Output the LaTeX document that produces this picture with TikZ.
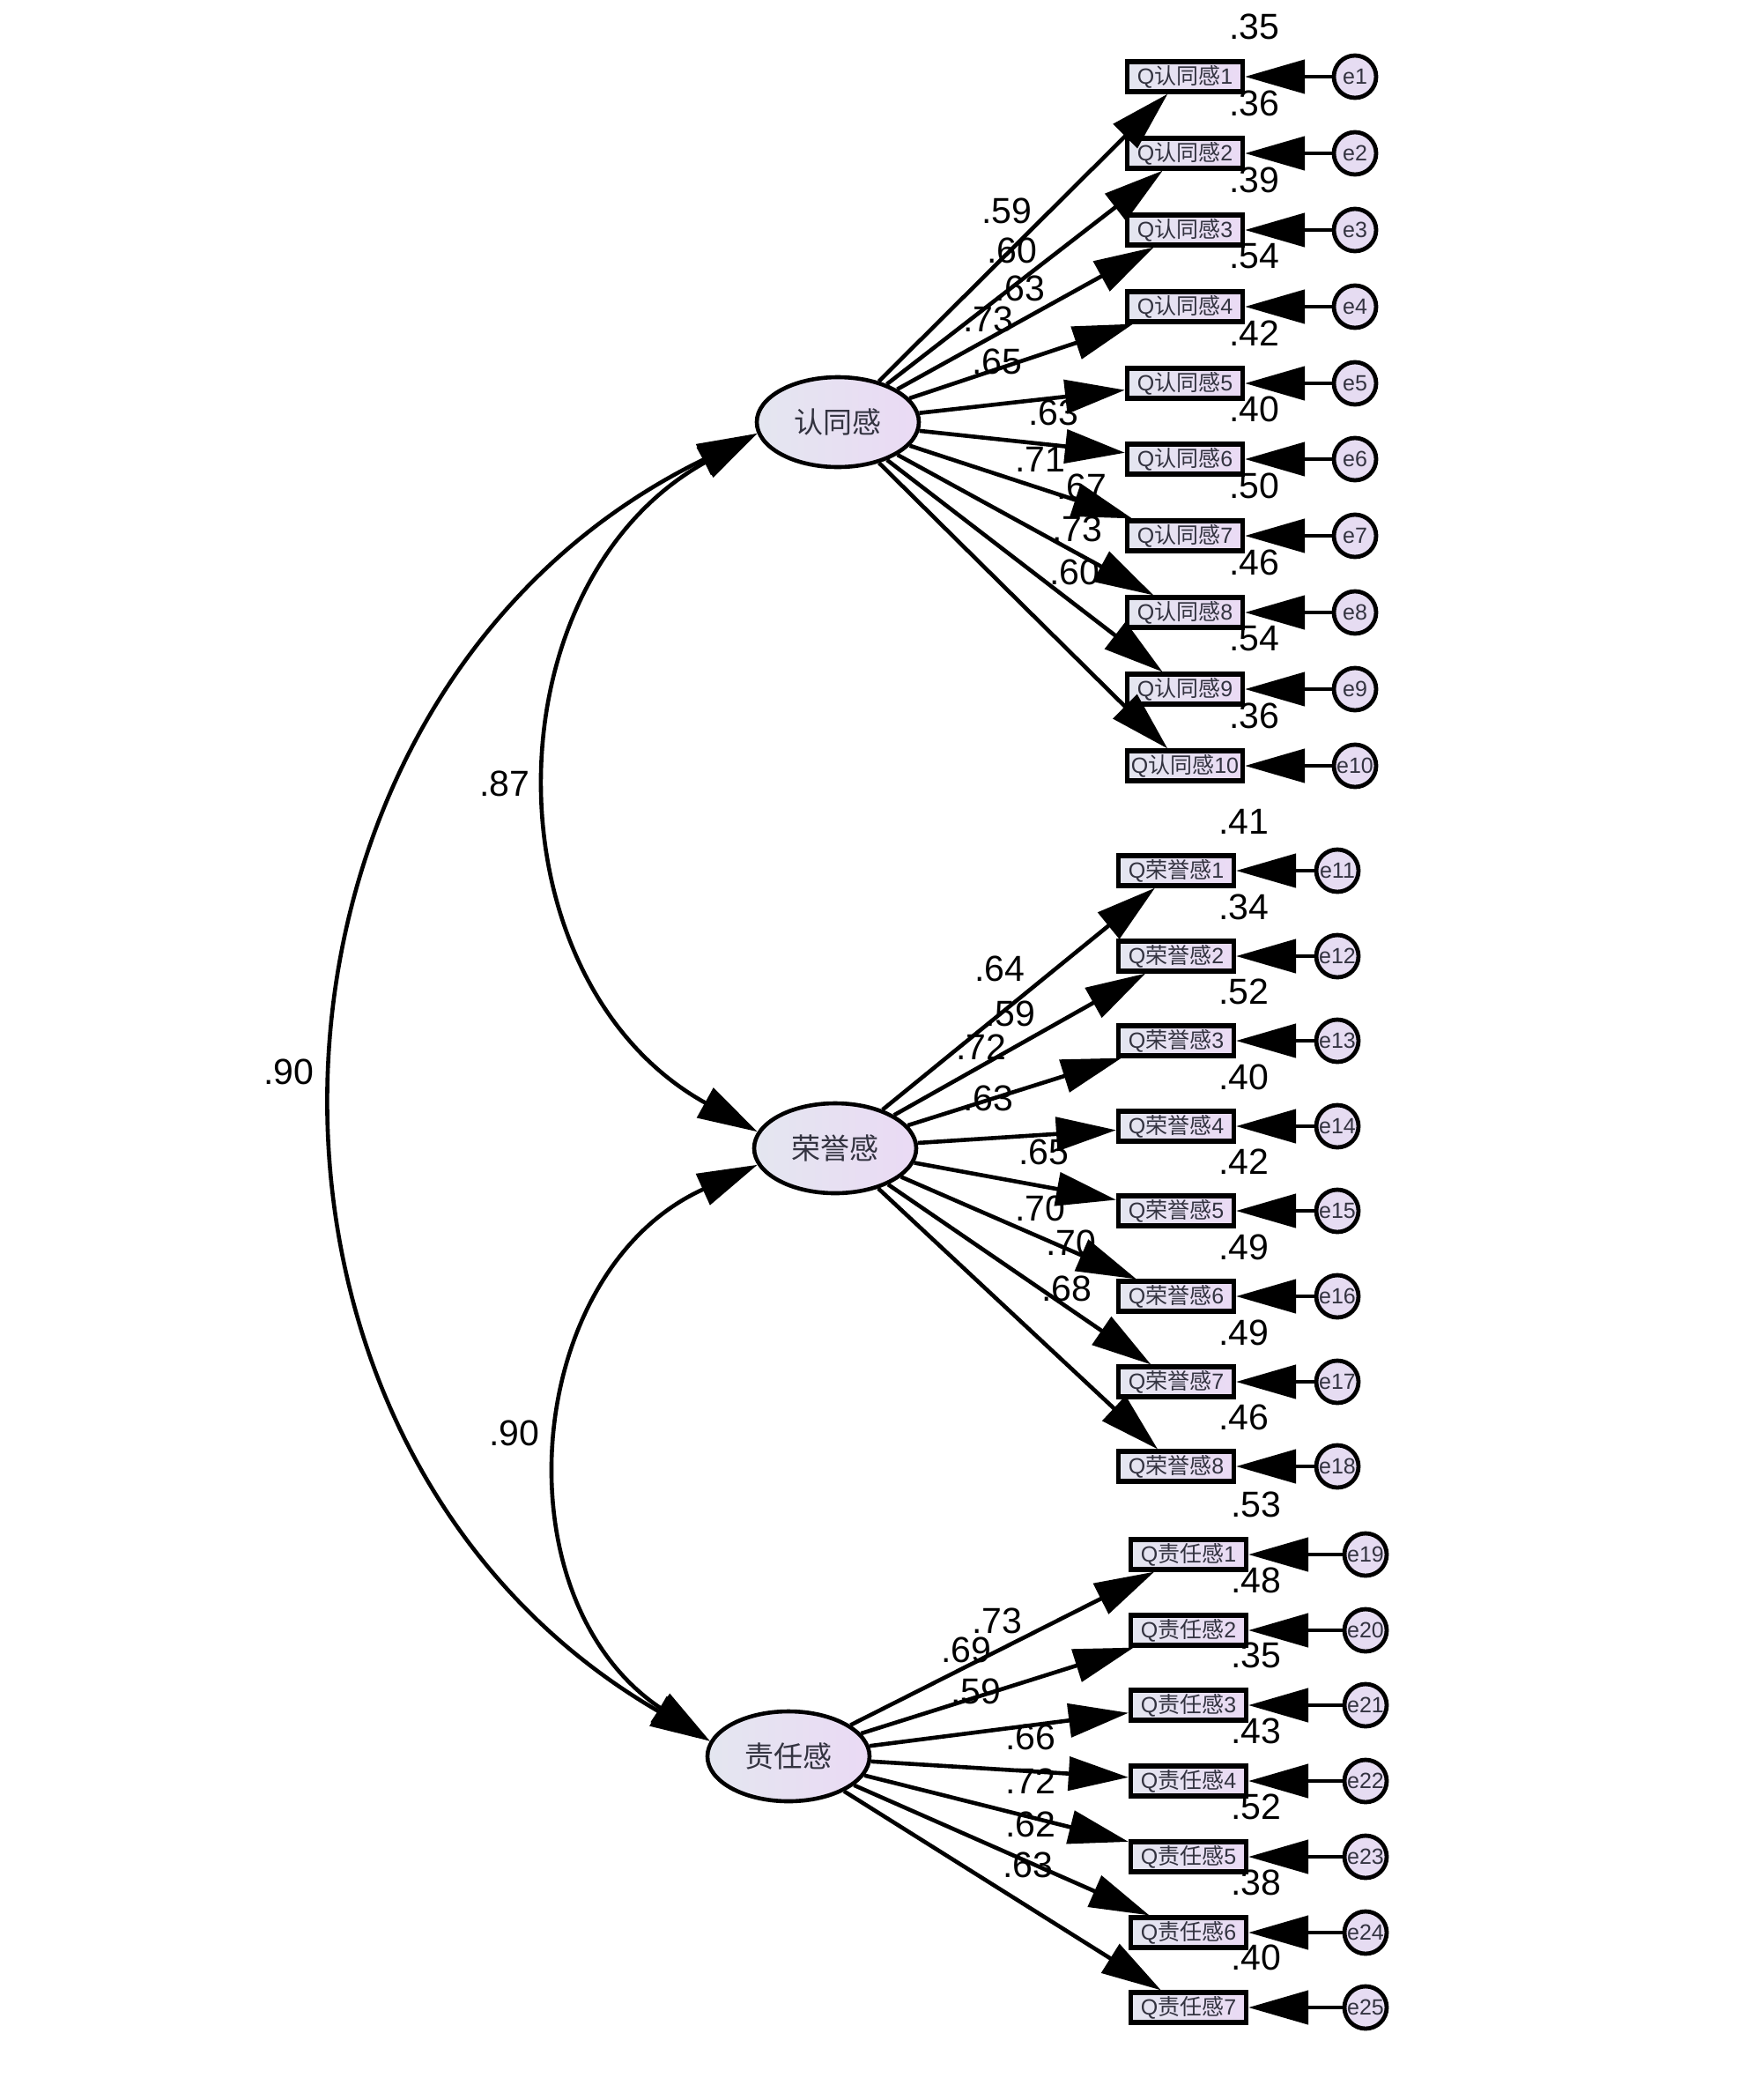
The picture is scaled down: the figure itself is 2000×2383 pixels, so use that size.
\documentclass[tikz,border=0pt]{standalone}
\usepackage{fontspec}
\setmainfont{Liberation Sans}
\newfontfamily\cjk{Noto Sans CJK SC}
\usetikzlibrary{arrows.meta,shapes.geometric}
\definecolor{gl}{HTML}{E4E6F0}
\definecolor{gr}{HTML}{EADAF4}
\definecolor{ecol}{HTML}{E6DCF2}
\definecolor{txt}{HTML}{333340}
\begin{document}
\begin{tikzpicture}[x=0.5pt,y=0.5pt,
  latent/.style={ellipse, draw=black, line width=2.3pt, minimum width=92pt, minimum height=51pt, inner sep=0pt, left color=gl, right color=gr, font=\cjk\fontsize{16.5}{18}\selectfont, text=txt},
  obs/.style={rectangle, draw=black, line width=2.6pt, minimum width=65.5pt, minimum height=17pt, inner sep=0pt, left color=gl, right color=gr, font=\fontsize{12.5}{13}\selectfont, text=txt},
  err/.style={circle, draw=black, line width=2.4pt, minimum size=24pt, inner sep=0pt, fill=ecol, font=\fontsize{12.5}{13}\selectfont, text=txt},
  num/.style={font=\fontsize{20.5}{22}\selectfont, inner sep=0pt},
  ldg/.style={line width=2.3pt, -{Triangle[length=34pt,width=19pt]}},
  cov/.style={line width=2.3pt, {Triangle[length=34pt,width=19pt]}-{Triangle[length=34pt,width=19pt]}},
]
\fill[white] (0,0) rectangle (2000,-2383);
\useasboundingbox (0,0) rectangle (2000,-2383);

\node[latent] (F1) at (951,-479) {认同感};
\node[latent] (F2) at (948,-1303) {荣誉感};
\node[latent] (F3) at (895,-1993) {责任感};

% group 1
\foreach \i/\y/\r/\l/\lx/\ly in {1/87/.35/.59/1143/239, 2/174/.36/.60/1149/284, 3/261/.39/.63/1158/327, 4/348/.54/.73/1122/362, 5/435/.42/.65/1132/410, 6/521/.40/.63/1196/468, 7/608/.50/.71/1181/521, 8/695/.46/.67/1228/552, 9/782/.54/.73/1223/600, 10/869/.36/.60/1220/649} {
  \node[obs] (A\i) at (1345,-\y) {Q{\cjk 认同感}\i};
  \node[err] (EA\i) at (1538,-\y) {e\i};
  \node[num] (RA\i) at (1424,{57-\y}) {\r};
  \node[num] (LA\i) at (\lx,-\ly) {\l};
}
% group 2
\foreach \i/\e/\y/\r/\l/\lx/\ly in {1/11/988/.41/.64/1135/1099, 2/12/1085/.34/.59/1147/1150, 3/13/1181/.52/.72/1114/1188, 4/14/1278/.40/.63/1122/1246, 5/15/1374/.42/.65/1185/1307, 6/16/1471/.49/.70/1181/1371, 7/17/1568/.49/.70/1216/1410, 8/18/1664/.46/.68/1211/1462} {
  \node[obs] (B\i) at (1335,-\y) {Q{\cjk 荣誉感}\i};
  \node[err] (EB\i) at (1518,-\y) {e\e};
  \node[num] (RB\i) at (1412,{56-\y}) {\r};
  \node[num] (LB\i) at (\lx,-\ly) {\l};
}
% group 3
\foreach \i/\e/\y/\r/\l/\lx/\ly in {1/19/1764/.53/.73/1132/1839, 2/20/1850/.48/.69/1097/1872, 3/21/1935/.35/.59/1108/1919, 4/22/2021/.43/.66/1170/1971, 5/23/2107/.52/.72/1170/2021, 6/24/2193/.38/.62/1170/2070, 7/25/2278/.40/.63/1167/2116} {
  \node[obs] (C\i) at (1349,-\y) {Q{\cjk 责任感}\i};
  \node[err] (EC\i) at (1550,-\y) {e\e};
  \node[num] (RC\i) at (1426,{57-\y}) {\r};
  \node[num] (LC\i) at (\lx,-\ly) {\l};
}

\foreach \i in {1,...,10} {
  \draw[ldg] (F1) -- (A\i);
  \draw[ldg] (EA\i) -- (A\i);
}
\foreach \i in {1,...,8} {
  \draw[ldg] (F2) -- (B\i);
  \draw[ldg] (EB\i) -- (B\i);
}
\foreach \i in {1,...,7} {
  \draw[ldg] (F3) -- (C\i);
  \draw[ldg] (EC\i) -- (C\i);
}

\draw[cov] (F1.188) to[bend right=61, looseness=1.14] (F2.168);
\draw[cov] (F2.192) to[bend right=61, looseness=1.14] (F3.169);
\draw[cov] (F1.188) to[bend right=62, looseness=1.16] (F3.169);
\node[num] (c12) at (573,-889) {.87};
\node[num] (c13) at (328,-1216) {.90};
\node[num] (c23) at (584,-1626) {.90};
\end{tikzpicture}
\end{document}
